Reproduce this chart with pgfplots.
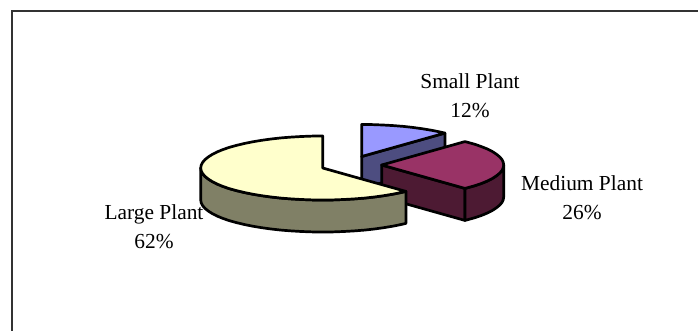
\documentclass[border=0pt]{standalone}
\usepackage{pgfplots}
\pgfplotsset{compat=1.18}
\usepackage{fontspec}
\setmainfont{Liberation Serif}
\definecolor{smalltop}{HTML}{9999FF}
\definecolor{smallside}{HTML}{4D4D80}
\definecolor{medtop}{HTML}{993366}
\definecolor{medside}{HTML}{4D1A33}
\definecolor{largetop}{HTML}{FFFFCC}
\definecolor{largeside}{HTML}{808066}
\tikzset{lbl/.style={font=\fontsize{21.4pt}{28.5pt}\selectfont, align=center, text=black}}
\begin{document}
\begin{tikzpicture}
\path[use as bounding box] (0,0) rectangle (698pt,331pt);
\begin{axis}[
  at={(0,0)}, anchor=south west,
  scale only axis, width=698pt, height=331pt,
  xmin=0, xmax=698, ymin=0, ymax=331, y dir=reverse,
  axis lines=none, clip=true,
  every axis plot/.append style={black, line width=2.7pt, line join=round, mark=none},
]
% chart frame: left and top edges
\addplot[line width=2pt, color=black!80, line join=miter] coordinates {(11.5,331) (11.5,11) (698,11)};

% slice labels
\node[lbl] at (axis cs:470,95.5) {Small Plant\\12\%};
\node[lbl] at (axis cs:582,197.5) {Medium Plant\\26\%};
\node[lbl] at (axis cs:154,226.5) {Large Plant\\62\%};

% Small Plant: cut face, then top
\addplot[fill=smallside] coordinates {(361.7,156.5) (444.9,133.1) (444.9,165.1) (361.7,188.5)} -- cycle;
\addplot[fill=smalltop] coordinates {(361.7,156.5) (361.7,124.5) (372.3,124.6) (382.9,125.0) (393.3,125.6) (403.4,126.4) (413.3,127.5) (422.7,128.8) (431.7,130.3) (440.1,132.0) (444.9,133.1)} -- cycle;

% Medium Plant: cut face, rim, then top
\addplot[fill=medside] coordinates {(381.7,165) (464.9,188.4) (464.9,220.4) (381.7,197)} -- cycle;
\addplot[fill=medside] coordinates {(503.7,165) (503.2,167.8) (501.9,170.6) (499.5,173.3) (496.3,175.9) (492.3,178.5) (487.4,181) (481.6,183.4) (475.2,185.6) (468,187.6) (464.9,188.4) (464.9,220.4) (468,219.6) (475.2,217.6) (481.6,215.4) (487.4,213) (492.3,210.5) (496.3,207.9) (499.5,205.3) (501.9,202.6) (503.2,199.8) (503.7,197)} -- cycle;
\addplot[fill=medtop] coordinates {(381.7,165) (464.9,141.6) (468,142.4) (475.2,144.4) (481.6,146.7) (487.4,149) (492.3,151.5) (496.3,154.1) (499.5,156.7) (501.9,159.4) (503.2,162.2) (503.7,165) (503.2,167.8) (501.9,170.6) (499.5,173.3) (496.3,175.9) (492.3,178.5) (487.4,181) (481.6,183.4) (475.2,185.6) (468,187.6) (464.9,188.4)} -- cycle;

% Large Plant: rim, then top
\addplot[fill=largeside] coordinates {(200.7,168) (201.2,170.8) (202.6,173.6) (204.9,176.3) (208.1,178.9) (212.1,181.5) (217,184) (222.8,186.4) (229.2,188.6) (236.4,190.6) (244.3,192.5) (252.7,194.2) (261.7,195.7) (271.1,197) (281,198.1) (291.1,198.9) (301.5,199.5) (312.1,199.9) (322.7,200) (333.3,199.9) (343.9,199.5) (354.3,198.9) (364.4,198.1) (374.3,197) (383.7,195.7) (392.7,194.2) (401.1,192.5) (405.9,191.4)
 (405.9,223.4) (401.1,224.5) (392.7,226.2) (383.7,227.7) (374.3,229) (364.4,230.1) (354.3,230.9) (343.9,231.5) (333.3,231.9) (322.7,232) (312.1,231.9) (301.5,231.5) (291.1,230.9) (281,230.1) (271.1,229) (261.7,227.7) (252.7,226.2) (244.3,224.5) (236.4,222.6) (229.2,220.6) (222.8,218.4) (217,216) (212.1,213.5) (208.1,210.9) (204.9,208.3) (202.6,205.6) (201.2,202.8) (200.7,200)} -- cycle;
\addplot[fill=largetop] coordinates {(322.7,168) (322.7,136) (312.1,136.1) (301.5,136.5) (291.1,137.1) (281,137.9) (271.1,139) (261.7,140.3) (252.7,141.8) (244.3,143.5) (236.4,145.4) (229.2,147.4) (222.8,149.6) (217,152) (212.1,154.5) (208.1,157.1) (204.9,159.7) (202.6,162.4) (201.2,165.2) (200.7,168) (201.2,170.8) (202.6,173.6) (204.9,176.3) (208.1,178.9) (212.1,181.5) (217,184) (222.8,186.4) (229.2,188.6) (236.4,190.6) (244.3,192.5) (252.7,194.2) (261.7,195.7) (271.1,197) (281,198.1) (291.1,198.9) (301.5,199.5) (312.1,199.9) (322.7,200) (333.3,199.9) (343.9,199.5) (354.3,198.9) (364.4,198.1) (374.3,197) (383.7,195.7) (392.7,194.2) (401.1,192.5) (405.9,191.4)} -- cycle;
\end{axis}
\end{tikzpicture}
\end{document}
